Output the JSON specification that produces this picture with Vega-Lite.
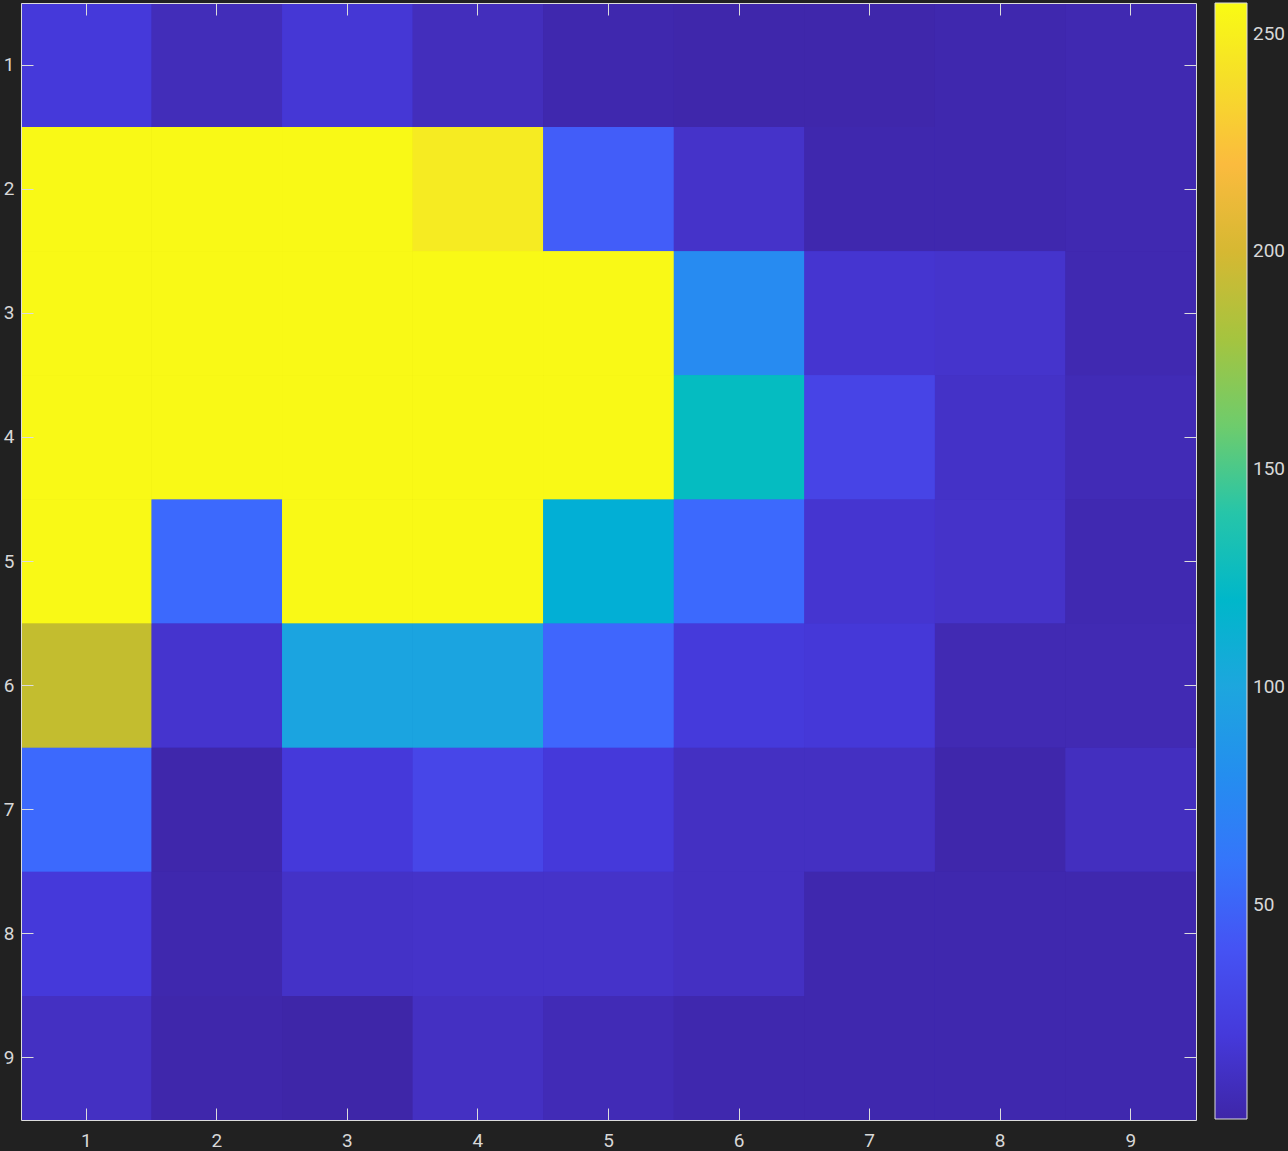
{
  "$schema": "https://vega.github.io/schema/vega-lite/v6.json",
  "width": 1175,
  "height": 1117,
  "autosize": "none",
  "padding": {"left": 21, "top": 3, "right": 92, "bottom": 31},
  "background": "#212121",
  "config": {
    "view": {"stroke": null},
    "font": "Roboto",
    "axis": {
      "domainColor": "#dcdcdc",
      "domainWidth": 1,
      "tickColor": "#dcdcdc",
      "tickSize": -12,
      "labelColor": "#d8d8d8",
      "labelFontSize": 19,
      "labelFont": "Roboto",
      "grid": false,
      "title": null
    }
  },
  "data": {
    "values": [
      {"r": 1, "c": 1, "v": 20}, {"r": 1, "c": 2, "v": 7}, {"r": 1, "c": 3, "v": 18}, {"r": 1, "c": 4, "v": 8}, {"r": 1, "c": 5, "v": 3}, {"r": 1, "c": 6, "v": 2}, {"r": 1, "c": 7, "v": 2}, {"r": 1, "c": 8, "v": 3}, {"r": 1, "c": 9, "v": 4},
      {"r": 2, "c": 1, "v": 256}, {"r": 2, "c": 2, "v": 256}, {"r": 2, "c": 3, "v": 256}, {"r": 2, "c": 4, "v": 248}, {"r": 2, "c": 5, "v": 45}, {"r": 2, "c": 6, "v": 13}, {"r": 2, "c": 7, "v": 3}, {"r": 2, "c": 8, "v": 3}, {"r": 2, "c": 9, "v": 4},
      {"r": 3, "c": 1, "v": 256}, {"r": 3, "c": 2, "v": 256}, {"r": 3, "c": 3, "v": 256}, {"r": 3, "c": 4, "v": 256}, {"r": 3, "c": 5, "v": 256}, {"r": 3, "c": 6, "v": 78}, {"r": 3, "c": 7, "v": 16}, {"r": 3, "c": 8, "v": 14}, {"r": 3, "c": 9, "v": 4},
      {"r": 4, "c": 1, "v": 256}, {"r": 4, "c": 2, "v": 256}, {"r": 4, "c": 3, "v": 256}, {"r": 4, "c": 4, "v": 256}, {"r": 4, "c": 5, "v": 256}, {"r": 4, "c": 6, "v": 127}, {"r": 4, "c": 7, "v": 29}, {"r": 4, "c": 8, "v": 12}, {"r": 4, "c": 9, "v": 6},
      {"r": 5, "c": 1, "v": 256}, {"r": 5, "c": 2, "v": 52}, {"r": 5, "c": 3, "v": 256}, {"r": 5, "c": 4, "v": 256}, {"r": 5, "c": 5, "v": 110}, {"r": 5, "c": 6, "v": 52}, {"r": 5, "c": 7, "v": 16}, {"r": 5, "c": 8, "v": 13}, {"r": 5, "c": 9, "v": 4},
      {"r": 6, "c": 1, "v": 190}, {"r": 6, "c": 2, "v": 15}, {"r": 6, "c": 3, "v": 98}, {"r": 6, "c": 4, "v": 98}, {"r": 6, "c": 5, "v": 50}, {"r": 6, "c": 6, "v": 21}, {"r": 6, "c": 7, "v": 19}, {"r": 6, "c": 8, "v": 5}, {"r": 6, "c": 9, "v": 5},
      {"r": 7, "c": 1, "v": 52}, {"r": 7, "c": 2, "v": 2}, {"r": 7, "c": 3, "v": 20}, {"r": 7, "c": 4, "v": 31}, {"r": 7, "c": 5, "v": 20}, {"r": 7, "c": 6, "v": 10}, {"r": 7, "c": 7, "v": 10}, {"r": 7, "c": 8, "v": 2}, {"r": 7, "c": 9, "v": 9},
      {"r": 8, "c": 1, "v": 20}, {"r": 8, "c": 2, "v": 3}, {"r": 8, "c": 3, "v": 12}, {"r": 8, "c": 4, "v": 13}, {"r": 8, "c": 5, "v": 13}, {"r": 8, "c": 6, "v": 10}, {"r": 8, "c": 7, "v": 3}, {"r": 8, "c": 8, "v": 3}, {"r": 8, "c": 9, "v": 3},
      {"r": 9, "c": 1, "v": 10}, {"r": 9, "c": 2, "v": 2}, {"r": 9, "c": 3, "v": 1}, {"r": 9, "c": 4, "v": 10}, {"r": 9, "c": 5, "v": 6}, {"r": 9, "c": 6, "v": 3}, {"r": 9, "c": 7, "v": 3}, {"r": 9, "c": 8, "v": 3}, {"r": 9, "c": 9, "v": 3}
    ]
  },
  "resolve": {"axis": {"x": "independent", "y": "independent"}},
  "encoding": {
    "color": {
      "field": "v",
      "type": "quantitative",
      "scale": {
        "domain": [1, 10, 20, 30, 40, 50, 62, 75, 90, 100, 115, 125, 135, 150, 160, 170, 182, 191, 200, 209, 216, 223, 235, 250, 257],
        "range": ["#3e26a8", "#4430c2", "#4539da", "#4745e7", "#4553f4", "#3f66fd", "#3478fa", "#2e87f3", "#2699e6", "#1da6de", "#0cb3d0", "#05bac4", "#22c3b4", "#40c890", "#6ecc6c", "#8eca50", "#a9c33c", "#c6bc2e", "#d6b832", "#eab43a", "#f8b444", "#fcc03a", "#f6d82c", "#f6ee20", "#f9fb14"],
        "clamp": true
      },
      "legend": {
        "title": null,
        "orient": "right",
        "offset": 18,
        "direction": "vertical",
        "gradientLength": 1116,
        "gradientThickness": 32,
        "gradientStrokeColor": "#dcdcdc",
        "gradientStrokeWidth": 1,
        "padding": 0,
        "values": [50, 100, 150, 200, 250],
        "labelFontSize": 19,
        "labelColor": "#d8d8d8",
        "labelFont": "Roboto",
        "labelOffset": 6,
        "labelOverlap": false
      }
    }
  },
  "layer": [
    {
      "mark": {"type": "rect", "strokeWidth": 0},
      "encoding": {
        "x": {"field": "c", "type": "ordinal", "scale": {"padding": 0}, "axis": null},
        "y": {"field": "r", "type": "ordinal", "scale": {"padding": 0}, "axis": null}
      }
    },
    {
      "mark": {"type": "rect", "strokeWidth": 0},
      "encoding": {
        "x": {"field": "c", "type": "ordinal", "axis": null},
        "y": {"field": "r", "type": "ordinal", "axis": null}
      }
    },
    {
      "mark": {"type": "rect", "strokeWidth": 0},
      "encoding": {
        "x": {"field": "c", "type": "ordinal", "axis": {"orient": "bottom", "labelAngle": 0, "labelPadding": 23}},
        "y": {"field": "r", "type": "ordinal", "axis": {"orient": "left", "labelPadding": 19}}
      }
    },
    {
      "mark": {"type": "rect", "opacity": 0},
      "encoding": {
        "x": {"field": "c", "type": "ordinal", "axis": {"orient": "top", "labels": false}},
        "y": {"field": "r", "type": "ordinal", "axis": {"orient": "right", "labels": false}},
        "color": {"value": "transparent"}
      }
    }
  ]
}
